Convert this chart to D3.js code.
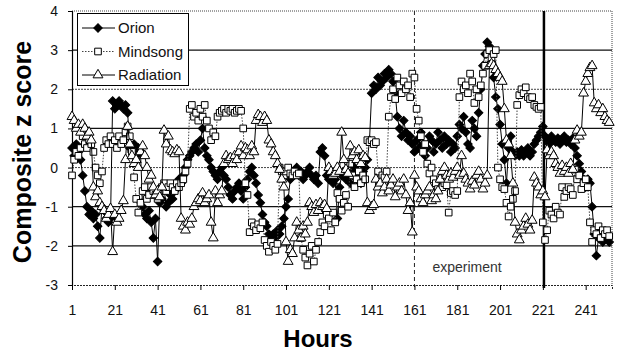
<!DOCTYPE html>
<html>
<head>
<meta charset="utf-8">
<script src="https://cdn.jsdelivr.net/npm/d3@7"></script>
<style>
  body { margin: 0; background: #fff; }
  svg { display: block; font-family: "Liberation Sans", Arial, sans-serif; }
</style>
</head>
<body>
<script>
// hourly composite z scores, hour 1..252
var orion = [
  0.5, 0.3, 0.6, 0.4, 0.2, -0.2, -0.6, -1.0, -1.2, -1.1,
  -1.3, -1.2, -1.5, -1.8, -1.0, -1.1, -1.3, -1.4, -1.3, 1.7,
  1.5, 1.6, 1.7, 1.6, 1.5, 1.6, 1.4, 0.5, 0.4, 0.6,
  0.3, 0.5, 0.4, -1.0, -1.2, -1.3, -1.1, -1.4, -1.8, -1.3,
  -2.4, -0.9, -0.8, -0.5, -1.0, -0.9, -0.7, -0.8, -0.6, -0.5,
  -0.3, -0.4, -0.2, 0.0, 0.2, 0.3, 0.4, 0.5, 0.6, 0.4,
  0.7, 1.0, 0.5, 0.3, 0.2, 0.0, -0.1, -0.2, -0.3, -0.1,
  0.0, -0.2, -0.3, -0.5, -0.7, -0.8, -0.6, -0.5, -0.4, -0.6,
  -0.8, -0.5, -0.3, -0.1, 0.0, -0.2, -0.4, -0.7, -0.9, -1.2,
  -1.4, -1.5, -1.7, -1.8, -1.7, -1.8, -1.6, -1.7, -1.5, -1.3,
  -1.0, -0.8, -0.3, -0.2, -0.1, 0.0, -0.2, -0.1, -0.3, -0.2,
  -0.1, 0.0, -0.2, -0.3, -0.2, -0.4, 0.4, 0.5, 0.3, -0.2,
  -0.3, -0.2, -0.4, -0.3, -1.3, -0.5, -0.2, -0.1, -0.3, -0.2,
  -0.4, -0.1, 0.0, -0.3, -0.2, -0.4, -0.1, 0.0, 0.2, 0.7,
  1.9, 2.1, 2.0, 2.3, 2.1, 2.2, 2.4, 2.3, 2.5, 2.4,
  2.2, 1.9, 1.3, 1.0, 0.8, 1.2, 0.9, 0.7, 0.8, 0.6,
  0.4, 0.7, 0.5, 0.9, 0.6, 0.3, 0.5, 0.8, 0.7, 0.4,
  0.6, 0.9, 0.7, 0.5, 0.8, 0.6, 0.7, 0.4, 0.6, 0.5,
  0.8, 1.1, 1.0, 1.3, 0.9, 0.6, 0.5, 1.2, 1.0, 0.8,
  1.4, 2.0, 2.6, 2.9, 3.2, 3.1, 2.7, 2.3, 1.8, 1.5,
  1.1, 0.6, 0.2, -0.4, 0.5, 0.8, 0.4, 0.3, 0.4, 0.3,
  0.45, 0.3, 0.4, 0.5, 0.3, 0.4, 0.6, 0.7, 0.8, 0.9,
  1.05, 0.8, 0.7, 0.6, 0.8, 0.7, 0.65, 0.75, 0.6, 0.7,
  0.8, 0.65, 0.7, 0.6, 0.75, 0.5, 0.3, 0.1, -0.1, -0.3,
  -0.5, -0.3, -0.4, -1.0, -1.7, -2.25, -1.8, -1.6, -1.9, -1.7,
  -1.8, -1.9
];
var mindsong = [
  -0.2, 0.2, 0.4, 0.3, 0.5, 0.8, 0.6, 0.5, 0.7, 0.6,
  0.4, 0.0, -0.2, -0.4, -0.1, 0.5, 0.7, 0.6, 0.8, 0.6,
  0.7, 0.5, 0.8, 0.6, 0.7, 0.9, 1.05, 0.8, 0.4, -0.25,
  -0.8, -1.15, -0.9, -0.6, -0.5, -0.8, -0.7, -0.5, -0.6, -0.7,
  -0.8, -0.6, -0.5, -0.4, -0.6, -0.5, -0.4, -0.5, -0.6, -0.4,
  -0.5, -0.4, -0.3, -0.1, 0.1, 1.5, 1.6, 1.3, 1.4, 1.2,
  1.5, 1.3, 1.6, 1.2, 1.0, 0.7, 0.9, 0.8, 1.3, 1.4,
  1.45, 1.5, 1.4, 1.5, 1.45, 1.5, 1.4, 1.45, 1.5, 1.45,
  1.0, -0.4, -0.7, -1.65, -1.4, -1.5, -1.6, -1.45, -1.55, -1.4,
  -1.85, -2.0, -2.15, -1.9, -2.0, -2.1, -1.95, 0.0, -0.1, -0.2,
  -0.1, 0.0, -0.15, -0.2, -0.1, -0.2, -0.15, -1.8, -2.1, -2.3,
  -2.5, -2.2, -2.0, -2.4, -2.1, -1.9, -1.65, -1.4, -1.5, -1.2,
  -1.3, -1.6, -1.15, -1.4, -0.65, -0.8, -1.1, -0.9, -0.7, -1.0,
  0.1, -0.2, -0.5, -0.3, -0.1, -0.4, -0.2, -0.3, 0.7, 0.65,
  0.7, 0.6, 0.65, -0.1, -0.3, -0.2, -0.25, -0.1, 1.3, 1.8,
  2.0, 1.75, 2.3, 2.1, 1.9, 2.2, 2.0, 2.1, 1.8, 2.4,
  2.3, 1.5, 1.2, 0.8, 0.4, 0.6, 0.1, -0.15, 0.0, -0.3,
  -0.4, -0.55, -0.3, -0.5, -0.4, -0.45, -1.15, -0.65, -0.6, -0.7,
  -0.6, 1.8, 2.2, 2.0, 2.1, 1.9, 2.4, 2.2, 1.65, 2.0,
  1.8, 2.1, 2.4, 2.6, 2.9, 3.0, 2.8, 2.9, 3.0, 0.0,
  -0.3, -0.5, -0.55, -0.9, -1.25, -1.0, -0.8, -0.6, 1.6, 1.85,
  2.0, 1.9, 2.05, 1.8, 1.75, 1.8, 1.6, 1.55, 1.5, 1.55,
  -1.4, -1.85, -1.6, -1.1, -1.2, -1.3, -1.0, -1.15, -1.2, -0.5,
  -0.75, -0.6, -0.5, -0.55, -0.7, -0.05, -0.3, -0.2, -0.55, -0.4,
  -0.3, -0.5, -1.4, -1.9, -1.6, -1.7, -1.5, -1.8, -1.6, -1.7,
  -1.6, -1.75
];
var radiation = [
  1.3, 1.2, 1.0, 1.1, 0.9, 1.1, 1.0, 0.8, 0.9, 0.7,
  -0.5, -0.75, -0.6, -0.9, -1.0, -1.1, -1.3, -1.2, -1.05, -2.15,
  -1.2, -1.4, -1.3, -1.1, -0.85, 0.2, 1.05, 0.6, 0.3, 0.1,
  0.2, 0.0, 0.4, 0.55, 0.3, 0.0, -0.3, -0.2, -0.5, -0.7,
  -0.6, -0.75, -0.5, 0.95, 0.6, 0.8, 0.45, 0.4, 0.35, 0.45,
  0.4, -1.3, -1.5, -1.6, -1.4, -1.45, -1.3, -1.0, -0.9, -0.8,
  -0.85, -0.65, -0.9, -0.8, -0.7, -1.4, -1.8, -0.6, -0.9, -0.7,
  -0.6, 0.1, 0.3, 0.2, 0.25, 0.1, 0.3, 0.2, 0.4, 0.55,
  0.3, 0.5, 0.45, 0.3, 0.55, 0.4, 1.2, 1.35, 1.3, 1.15,
  1.3, 1.2, 0.7, 0.6, 0.4, 0.3, 0.1, -0.05, -0.3, -0.5,
  -1.9, -2.4, -2.1, -2.2, -1.8, -1.4, -1.6, -1.8, -1.5, -1.7,
  -1.4, -0.9, -1.0, -1.15, -0.95, -1.1, -0.9, -1.0, -0.95, -1.05,
  0.0, -0.1, -0.2, -0.15, 0.0, -0.1, 0.9, 0.2, -0.05, -0.15,
  0.55, 0.3, 0.4, 0.2, 0.45, 0.1, 0.3, 0.25, -0.9, -1.1,
  -1.0, -0.95, -0.3, -0.5, -0.4, -0.65, -0.5, -0.3, -0.6, -0.45,
  -0.3, -0.75, -0.5, -0.4, -0.6, -0.3, -0.7, -1.1, -0.9, -1.65,
  -0.2, -0.5, -0.6, -0.8, -0.9, -0.7, -0.6, -0.5, -0.85, -0.7,
  -0.8, -0.6, -0.3, -0.1, 0.0, -0.2, -0.3, -0.15, -0.25, -0.1,
  0.0, -0.2, 0.3, -0.15, -0.3, -0.4, -0.55, -0.35, -0.45, -0.2,
  -0.1, -0.3, -0.55, -0.4, -0.2, 2.6, 2.65, 2.6, 2.5, 2.4,
  2.3, 2.2, 1.5, 0.7, 0.6, 0.3, -0.4, -1.4, -1.7, -1.85,
  -1.6, -1.5, -1.3, -1.45, -1.6, -1.35, -0.25, -0.4, -0.5, -0.7,
  -0.6, -0.75, 0.45, 0.3, 0.4, 0.3, 0.1, 0.0, -0.15, 0.05,
  -0.1, 0.0, -0.15, 0.1, -0.05, 0.7, 0.95, 0.8, 0.9, 1.9,
  2.2, 2.4, 2.55, 2.6, 1.65, 1.5, 1.6, 1.4, 1.5, 1.3,
  1.2, 1.15
];
var xTicks = [1, 21, 41, 61, 81, 101, 121, 141, 161, 181, 201, 221, 241];
var yTicks = [-3, -2, -1, 0, 1, 2, 3, 4];
var dottedGrid = [0, 2];
var experimentStart = 161;
var experimentEnd = 221.5;

var W = 623, H = 356;
var svg = d3.select("body").append("svg").attr("width", W).attr("height", H);

var x = d3.scaleLinear().domain([1, 253.3]).range([72, 612]);
var y = d3.scaleLinear().domain([-3, 4]).range([285, 11]);

// grid lines
svg.selectAll("line.grid")
    .data(yTicks.filter(function(d) { return d > -3 && d < 4; }))
    .enter().append("line")
    .attr("x1", x.range()[0]).attr("x2", x.range()[1])
    .attr("y1", function(d) { return y(d); })
    .attr("y2", function(d) { return y(d); })
    .attr("stroke", function(d) { return dottedGrid.indexOf(d) >= 0 ? "#444" : "#111"; })
    .attr("stroke-width", function(d) { return dottedGrid.indexOf(d) >= 0 ? 1 : 1.2; })
    .attr("stroke-dasharray", function(d) { return dottedGrid.indexOf(d) >= 0 ? "2,1" : null; });

// top and right border (dotted)
svg.append("line").attr("x1", 72).attr("x2", 612).attr("y1", 11).attr("y2", 11)
    .attr("stroke", "#444").attr("stroke-dasharray", "1,1");
svg.append("line").attr("x1", 612).attr("x2", 612).attr("y1", 11).attr("y2", 285)
    .attr("stroke", "#444").attr("stroke-dasharray", "1,1");

// experiment markers
svg.append("line").attr("x1", x(experimentStart)).attr("x2", x(experimentStart))
    .attr("y1", 11).attr("y2", 287)
    .attr("stroke", "#222").attr("stroke-dasharray", "4,3");
svg.append("line").attr("x1", x(experimentEnd)).attr("x2", x(experimentEnd))
    .attr("y1", 11).attr("y2", 288)
    .attr("stroke", "#000").attr("stroke-width", 2.5);
svg.append("text").attr("x", x(experimentStart) + 18).attr("y", 272)
    .attr("font-size", 14).attr("fill", "#333").text("experiment");

// axes
var xAxis = d3.axisBottom(x).tickValues(xTicks).tickSize(5).tickPadding(15);
var gx = svg.append("g").attr("transform", "translate(0,285)").call(xAxis);
gx.select(".domain").attr("stroke", "#222").attr("stroke-dasharray", "2,1");
var yAxis = d3.axisLeft(y).tickValues(yTicks).tickSize(4).tickPadding(10)
    .tickFormat(function(d) { return String(d); });
var gy = svg.append("g").attr("transform", "translate(72,0)").call(yAxis);
gy.select(".domain").attr("stroke", "#000").attr("stroke-width", 1.2);
svg.selectAll(".tick text").attr("font-size", 14)
    .attr("font-family", "Liberation Sans, Arial, sans-serif").attr("fill", "#111");

// series
var series = [
    { name: "Orion", values: orion, dash: null, stroke: "#000", marker: "diamond" },
    { name: "Mindsong", values: mindsong, dash: "1.5,1.5", stroke: "#444", marker: "square" },
    { name: "Radiation", values: radiation, dash: null, stroke: "#000", marker: "triangle" }
];
var symbols = {
    diamond: d3.symbol().type(d3.symbolSquare).size(36),
    square: d3.symbol().type(d3.symbolSquare).size(44),
    triangle: d3.symbol().type(d3.symbolTriangle).size(42)
};

var line = d3.line()
    .x(function(d, i) { return x(i + 1); })
    .y(function(d) { return y(d); });

function drawMarkers(g, s, pts) {
    g.selectAll("path.m").data(pts).enter().append("path")
        .attr("class", "m")
        .attr("d", symbols[s.marker])
        .attr("transform", function(d) {
            return "translate(" + d[0] + "," + d[1] + ")" + (s.marker === "diamond" ? " rotate(45)" : "");
        })
        .attr("fill", s.marker === "diamond" ? "#000" : "#fff")
        .attr("stroke", "#000")
        .attr("stroke-width", 1);
}

series.forEach(function(s) {
    var g = svg.append("g");
    g.append("path").datum(s.values)
        .attr("d", line)
        .attr("fill", "none")
        .attr("stroke", s.stroke)
        .attr("stroke-width", 1)
        .attr("stroke-dasharray", s.dash);
    drawMarkers(g, s, s.values.map(function(v, i) { return [x(i + 1), y(v)]; }));
});

// legend
var lg = svg.append("g");
lg.append("rect").attr("x", 77.5).attr("y", 13.5).attr("width", 111).attr("height", 72)
    .attr("fill", "#fff").attr("stroke", "#000");
series.forEach(function(s, i) {
    var ly = 28 + i * 23.5;
    lg.append("line").attr("x1", 82).attr("x2", 115).attr("y1", ly).attr("y2", ly)
        .attr("stroke", s.stroke).attr("stroke-dasharray", s.dash);
    drawMarkers(lg.append("g"), s, [[98, ly]]);
    lg.append("text").attr("x", 118).attr("y", ly + 5).attr("font-size", 15)
        .attr("fill", "#111").text(s.name);
});

// titles
svg.append("text").attr("transform", "translate(31,152) rotate(-90)")
    .attr("text-anchor", "middle").attr("font-size", 25).attr("font-weight", "bold")
    .text("Composite z score");
svg.append("text").attr("x", 318).attr("y", 347)
    .attr("text-anchor", "middle").attr("font-size", 24).attr("font-weight", "bold")
    .text("Hours");
</script>
</body>
</html>
